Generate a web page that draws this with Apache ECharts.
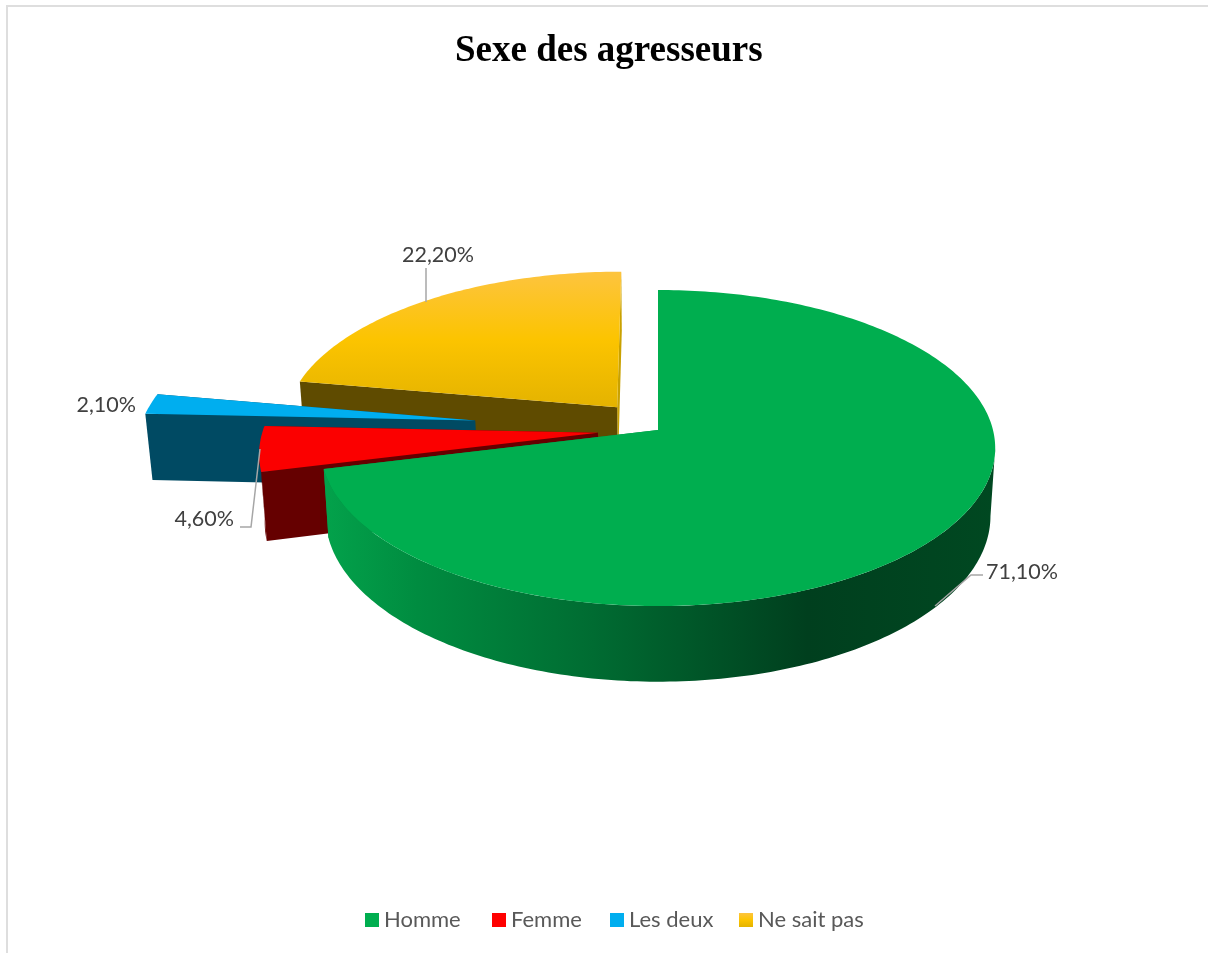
<!DOCTYPE html>
<html>
<head>
<meta charset="utf-8">
<title>Sexe des agresseurs</title>
<style>
  html, body { margin: 0; padding: 0; background: #fff; }
  #chart { width: 1208px; height: 953px; }
</style>
<script src="https://cdn.jsdelivr.net/npm/echarts@6/dist/echarts.min.js"></script>
</head>
<body>
<div id="chart"></div>
<script>
// Chart content
const chartTitle = 'Sexe des agresseurs';
const categories = ['Homme', 'Femme', 'Les deux', 'Ne sait pas'];
const shares = [71.1, 4.6, 2.1, 22.2];

// Styling and layout per slice, in category order
const explosion = [0, 0.18, 0.553, 0.193];
const paintOrder = [5, 4, 3, 2];
const legendLeft = [365, 492, 610, 739];
const sideGreen = {
  type: 'linear', x: 0, y: 0, x2: 1, y2: 0,
  colorStops: [
    { offset: 0, color: '#03A24B' },
    { offset: 0.14, color: '#008C40' },
    { offset: 0.4, color: '#006C32' },
    { offset: 0.72, color: '#003F1E' },
    { offset: 1, color: '#004821' }
  ]
};
const topYellow = {
  type: 'linear', x: 0, y: 0, x2: 0, y2: 1,
  colorStops: [
    { offset: 0, color: '#FDC43F' },
    { offset: 0.5, color: '#FCC400' },
    { offset: 1, color: '#E4B300' }
  ]
};
const topColors = ['#00AE4F', '#FB0000', '#00AEEF', topYellow];
const legendColors = ['#00AE4F', '#FF0000', '#00AEEF', topYellow];
const sideColors = [sideGreen, '#650000', '#004A63', '#C9A100'];
const cutStartColors = ['#008C40', '#650000', '#004A63', '#5F4B00'];
const cutEndColors = ['#008C40', '#650000', '#004A63', '#C9A100'];
const labelColor = '#404040';
const leaderColor = '#A6A6A6';
const labelFont = '21.5px Lato, "Open Sans", sans-serif';

// Where each value label and its leader line go
const labelSpots = [
  { x: 986, y: 572, align: 'left', leader: [[983, 575], [971, 575], [935, 606]] },
  { x: 234, y: 519, align: 'right', leader: [[240, 527], [251, 527], [260, 449]] },
  { x: 136, y: 405, align: 'right', leader: null },
  { x: 438, y: 255, align: 'center', leader: [[426, 268], [426, 302]] }
];

// Perspective of the pie: ground plane seen from above, extruded downwards
const view = { cx: 658, cy: 430, rx: 335, ry: 156, k: 0.114, depth: 67, taper: 0.014 };

function project(X, Y, Z) {
  const s = 1 / (1 + view.k * Y);
  return [
    view.cx + view.rx * X * s * (1 - view.taper * Z),
    view.cy - view.ry * Y * s + view.depth * Z * s
  ];
}

// Angles are clockwise from twelve o'clock
function sliceAngles(index) {
  const total = shares.reduce((a, b) => a + b, 0);
  const before = shares.slice(0, index).reduce((a, b) => a + b, 0);
  const start = before / total * 2 * Math.PI;
  return [start, start + shares[index] / total * 2 * Math.PI];
}

// Samples the angle range at about one degree per step
function sweep(from, to) {
  const steps = Math.max(2, Math.ceil((to - from) / (Math.PI / 180)));
  const angles = [];
  for (let i = 0; i <= steps; i++) {
    angles.push(from + (to - from) * i / steps);
  }
  return angles;
}

function renderSlice(index) {
  const [a0, a1] = sliceAngles(index);
  const mid = (a0 + a1) / 2;
  const ox = Math.sin(mid) * explosion[index];
  const oy = Math.cos(mid) * explosion[index];
  const rim = (a, Z) => project(ox + Math.sin(a), oy + Math.cos(a), Z);
  const apex = (Z) => project(ox, oy, Z);

  const polygon = (points, fill) => ({
    type: 'polygon',
    shape: { points },
    style: { fill, stroke: null }
  });

  // Only the part of the outer wall between the two silhouette angles faces the viewer
  const turn = Math.acos(-view.k);
  const wallFrom = Math.max(a0, turn);
  const wallTo = Math.min(a1, 2 * Math.PI - turn);

  // Cut faces are painted from the farthest to the nearest, then the wall, then the top
  const children = [
    { depth: oy + Math.cos(a0) / 2, el: polygon([apex(0), rim(a0, 0), rim(a0, 1), apex(1)], cutStartColors[index]) },
    { depth: oy + Math.cos(a1) / 2, el: polygon([apex(0), rim(a1, 0), rim(a1, 1), apex(1)], cutEndColors[index]) }
  ].sort((p, q) => q.depth - p.depth).map((f) => f.el);

  if (wallTo > wallFrom) {
    const angles = sweep(wallFrom, wallTo);
    const wall = angles.map((a) => rim(a, 0)).concat(angles.slice().reverse().map((a) => rim(a, 1)));
    children.push(polygon(wall, sideColors[index]));
  }
  children.push(polygon([apex(0)].concat(sweep(a0, a1).map((a) => rim(a, 0))), topColors[index]));

  const spot = labelSpots[index];
  if (spot.leader) {
    children.push({
      type: 'polyline',
      shape: { points: spot.leader },
      style: { stroke: leaderColor, lineWidth: 1.5, fill: null }
    });
  }
  children.push({
    type: 'text',
    style: {
      x: spot.x,
      y: spot.y,
      text: shares[index].toFixed(2).replace('.', ',') + '%',
      fill: labelColor,
      font: labelFont,
      textAlign: spot.align,
      textVerticalAlign: 'middle'
    }
  });
  return { type: 'group', children };
}

const chart = echarts.init(document.getElementById('chart'));
chart.setOption({
  animation: false,
  backgroundColor: '#ffffff',
  title: {
    text: chartTitle,
    left: 455,
    top: 33,
    padding: 0,
    textStyle: {
      fontFamily: '"Liberation Serif", serif',
      fontWeight: 'bold',
      fontSize: 37,
      color: '#000000'
    }
  },
  legend: categories.map((name, i) => ({
    data: [name],
    left: legendLeft[i],
    top: 909,
    padding: 0,
    icon: 'rect',
    itemWidth: 14,
    itemHeight: 14,
    itemGap: 0,
    selectedMode: false,
    textStyle: {
      fontFamily: 'Lato, "Open Sans", sans-serif',
      fontSize: 22,
      color: '#595959'
    }
  })),
  graphic: [{
    type: 'rect',
    shape: { x: 7, y: 6, width: 1400, height: 1200 },
    style: { fill: null, stroke: '#DEDEDE', lineWidth: 2 },
    silent: true
  }],
  series: categories.map((name, i) => ({
    type: 'custom',
    name,
    coordinateSystem: 'none',
    z: paintOrder[i],
    silent: true,
    itemStyle: { color: legendColors[i] },
    data: [[shares[i]]],
    renderItem: () => renderSlice(i)
  }))
});
</script>
</body>
</html>
